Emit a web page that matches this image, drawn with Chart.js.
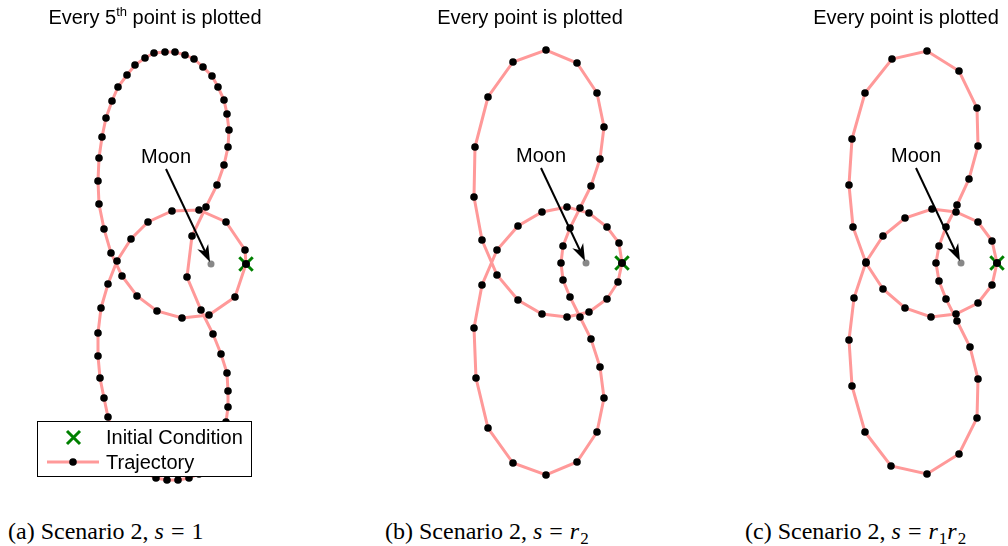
<!DOCTYPE html>
<html>
<head>
<meta charset="utf-8">
<script src="https://cdn.jsdelivr.net/npm/chart.js@4.4.1/dist/chart.umd.min.js"></script>
<style>
  body { margin: 0; width: 1008px; height: 546px; background: #fff; position: relative; overflow: hidden; }
  canvas { position: absolute; top: 0; }
  .title { position: absolute; top: 7px; font: 20px/20px "Liberation Sans", Arial, sans-serif; white-space: nowrap; transform: translateX(-50%); color: #000; }
  .title sup { font-size: 13px; line-height: 0; vertical-align: 8px; }
  .caption { position: absolute; top: 519px; font: 24px/24px "Liberation Serif", "Times New Roman", serif; white-space: nowrap; color: #000; }
  .caption i { margin-right: 1px; }
  .caption sub { font-size: 17px; line-height: 0; vertical-align: -5px; font-style: normal; }
  .eq { margin: 0 7px 0 6px; }
</style>
</head>
<body>
<canvas id="panelA" width="320" height="500" style="left:0px"></canvas>
<canvas id="panelB" width="320" height="500" style="left:376px"></canvas>
<canvas id="panelC" width="257" height="500" style="left:751px"></canvas>

<div class="title" style="left:155px">Every 5<sup>th</sup> point is plotted</div>
<div class="title" style="left:530px">Every point is plotted</div>
<div class="title" style="left:906px">Every point is plotted</div>

<div class="caption" style="left:8px">(a) Scenario 2, <i>s</i><span class="eq">=</span>1</div>
<div class="caption" style="left:385px">(b) Scenario 2, <i>s</i><span class="eq">=</span><i>r</i><sub>2</sub></div>
<div class="caption" style="left:745px">(c) Scenario 2, <i>s</i><span class="eq">=</span><i>r</i><sub>1</sub><i>r</i><sub>2</sub></div>

<script>
// trajectory samples, moon-centred, y up (same units on both axes)
const trajAx = [35, 34, 15, -12, -39, -63, -80, -94, -103, -110, -113, -113, -111, -107, -103,
  -98, -92, -85, -76, -66, -55, -44, -33, -22, -12, -3, 4, 9, 13, 15,
  17, 17, 16, 10, 2, -10, -24,
  -19, -5, 6, 13, 17, 18, 16, 13, 7, 1, -8, -17, -26, -36, -46, -57, -66, -76, -84, -93, -99, -105, -109, -112, -113, -112, -107, -100,
  -89, -74, -54, -29, -2, 24, 35];
const trajAy = [0, 14, 42, 54, 53, 42, 25, 3, -20, -44, -69, -92, -114, -134, -153,
  -169, -182, -193, -202, -209, -214, -216, -216, -214, -210, -203, -194, -183, -171, -158,
  -143, -127, -109, -90, -70, -46, -13,
  28, 57, 79, 99, 117, 134, 150, 164, 177, 188, 197, 205, 209, 212, 212, 211, 206, 199, 189, 177, 163, 146, 127, 106, 83, 60, 35, 11,
  -12, -32, -47, -54, -51, -33, 0];

const trajBx = [36, 33, 21, 3, -19, -44, -68, -89,
  -104, -112, -110, -98, -73, -40, -9, 11, 18, 14, 5, -6, -16, -23,
  -25,
  -23, -16, -6, 5, 14, 18, 11, -9, -40, -73, -98, -111, -112, -104,
  -89, -68, -44, -19, 3, 21, 32, 36];
const trajBy = [0, 20, 36, 50, 56, 51, 37, 13,
  -22, -65, -115, -165, -200, -212, -199, -169, -135, -104, -76, -54, -34, -17,
  0,
  17, 35, 55, 77, 104, 136, 170, 200, 213, 201, 166, 116, 66, 23,
  -12, -37, -51, -54, -49, -36, -19, 0];

const trajCx = [36, 31, 17, -5, -29, -56, -78, -95,
  -107, -112, -109, -96, -70, -34, -2, 16, 17, 9, -4, -15, -22,
  -25,
  -22, -15, -4, 8, 17, 16, -2, -34, -69, -96, -109, -112, -108, -95,
  -78, -56, -30, -5, 17, 31, 36];
const trajCy = [0, 22, 41, 51, 54, 45, 27, 1,
  -35, -77, -123, -169, -203, -211, -191, -155, -116, -84, -58, -36, -18,
  0,
  17, 36, 58, 84, 117, 155, 192, 212, 204, 170, 124, 78, 36, 0,
  -26, -45, -54, -51, -40, -22, 0];

const initialA = [35, 0];
const initialBC = [36, 0];
const moonPos = [0, 0];
const moonText = [-45, 107];
const arrowTail = [-45, 95];
const arrowHead = [-1, 2];

const pink = '#ff9999';
const icGreen = '#008000';

function toPoints(xs, ys) {
  return xs.map((x, i) => ({ x: x, y: ys[i] }));
}

// "Moon" label with an arrow pointing at the moon
const moonArrow = {
  id: 'moonArrow',
  afterDatasetsDraw(chart) {
    const ctx = chart.ctx;
    const sx = chart.scales.x, sy = chart.scales.y;
    const x0 = sx.getPixelForValue(arrowTail[0]), y0 = sy.getPixelForValue(arrowTail[1]);
    const x1 = sx.getPixelForValue(arrowHead[0]), y1 = sy.getPixelForValue(arrowHead[1]);
    const len = Math.hypot(x1 - x0, y1 - y0);
    const ux = (x1 - x0) / len, uy = (y1 - y0) / len;
    const px = -uy, py = ux;
    const L = 17, W = 6;
    ctx.save();
    ctx.strokeStyle = '#000';
    ctx.lineWidth = 2;
    ctx.beginPath();
    ctx.moveTo(x0, y0);
    ctx.lineTo(x1 - ux * 10, y1 - uy * 10);
    ctx.stroke();
    ctx.fillStyle = '#000';
    ctx.beginPath();
    ctx.moveTo(x1, y1);
    ctx.lineTo(x1 - ux * L + px * W, y1 - uy * L + py * W);
    ctx.lineTo(x1 - ux * L * 0.7, y1 - uy * L * 0.7);
    ctx.lineTo(x1 - ux * L - px * W, y1 - uy * L - py * W);
    ctx.closePath();
    ctx.fill();
    ctx.font = '20px "Liberation Sans", Arial, sans-serif';
    ctx.textAlign = 'center';
    ctx.textBaseline = 'middle';
    ctx.fillText('Moon', sx.getPixelForValue(moonText[0]), sy.getPixelForValue(moonText[1]));
    ctx.restore();
  }
};

// boxed legend drawn over the lower loop of the first panel
const boxLegend = {
  id: 'boxLegend',
  afterDraw(chart) {
    const ctx = chart.ctx;
    const ds = chart.data.datasets;
    ctx.save();
    ctx.fillStyle = '#fff';
    ctx.fillRect(37, 421, 215, 56);
    ctx.strokeStyle = '#000';
    ctx.lineWidth = 1;
    ctx.strokeRect(37.5, 421.5, 214, 55);

    // initial condition marker
    ctx.strokeStyle = icGreen;
    ctx.lineWidth = 3;
    ctx.beginPath();
    ctx.moveTo(67, 431); ctx.lineTo(80, 444);
    ctx.moveTo(80, 431); ctx.lineTo(67, 444);
    ctx.stroke();

    // trajectory sample
    ctx.strokeStyle = pink;
    ctx.lineWidth = 3;
    ctx.beginPath();
    ctx.moveTo(47, 462); ctx.lineTo(99, 462);
    ctx.stroke();
    ctx.fillStyle = '#000';
    ctx.beginPath();
    ctx.arc(73, 462, 3.8, 0, Math.PI * 2);
    ctx.fill();

    ctx.font = '20px "Liberation Sans", Arial, sans-serif';
    ctx.textAlign = 'left';
    ctx.textBaseline = 'alphabetic';
    ctx.fillText(ds[1].label, 106, 444);
    ctx.fillText(ds[0].label, 106, 469);
    ctx.restore();
  }
};

function makePanel(id, xs, ys, ic, xr, yr, withLegend) {
  const plugins = [moonArrow];
  if (withLegend) plugins.push(boxLegend);
  return new Chart(document.getElementById(id), {
    type: 'scatter',
    data: {
      datasets: [
        {
          label: 'Trajectory',
          data: toPoints(xs, ys),
          showLine: true,
          borderColor: pink,
          borderWidth: 3,
          tension: 0,
          pointRadius: 3.8,
          pointBorderWidth: 0,
          pointBackgroundColor: '#000',
          order: 0,
          clip: false
        },
        {
          label: 'Initial Condition',
          data: [{ x: ic[0], y: ic[1] }],
          pointStyle: 'crossRot',
          pointRadius: 9.5,
          pointBorderWidth: 3,
          pointBorderColor: icGreen,
          order: 1,
          clip: false
        },
        {
          label: 'Moon',
          data: [{ x: moonPos[0], y: moonPos[1] }],
          pointRadius: 3.5,
          pointBorderWidth: 0,
          pointBackgroundColor: '#888888',
          order: 2,
          clip: false
        }
      ]
    },
    options: {
      responsive: false,
      animation: false,
      layout: { padding: 0, autoPadding: false },
      scales: {
        x: { type: 'linear', display: false, min: xr[0], max: xr[1] },
        y: { type: 'linear', display: false, min: yr[0], max: yr[1] }
      },
      plugins: { legend: { display: false }, tooltip: { enabled: false } }
    },
    plugins: plugins
  });
}

makePanel('panelA', trajAx, trajAy, initialA, [-211, 109], [-236, 264], true);
makePanel('panelB', trajBx, trajBy, initialBC, [-210, 110], [-237, 263], false);
makePanel('panelC', trajCx, trajCy, initialBC, [-210, 47], [-237, 263], false);
</script>
</body>
</html>
